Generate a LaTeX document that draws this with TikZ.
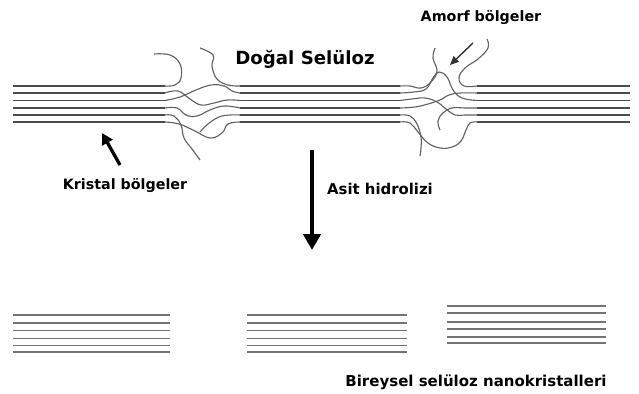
\documentclass[tikz,border=0pt]{standalone}
\usepackage{fontspec}
\setmainfont{DejaVu Sans}
\usetikzlibrary{arrows.meta}

\begin{document}
\begin{tikzpicture}[x=0.3mm, y=-0.3mm,
    fibre/.style={gray!60!black, line width=1.1pt},
    nano/.style={gray!90!black, line width=1.2pt},
    strand/.style={gray!75!black, line width=0.95pt},
    lbl/.style={anchor=base, inner sep=0pt, font=\bfseries\fontsize{12.2}{14}\selectfont}]
    \useasboundingbox (0,0) rectangle (639,394);

    % native cellulose: three crystalline bundles
    \begin{scope}[shift={(13,86)}]
      \draw[fibre] (0,0)  -- (152,0);
      \draw[fibre] (0,7)  -- (152,7);
      \draw[fibre] (0,14.5) -- (152,14.5);
      \draw[fibre] (0,22) -- (152,22);
      \draw[fibre] (0,29) -- (152,29);
      \draw[fibre] (0,36) -- (152,36);
    \end{scope}
    \begin{scope}[shift={(240,86)}]
      \draw[fibre] (0,0)  -- (160,0);
      \draw[fibre] (0,7)  -- (160,7);
      \draw[fibre] (0,14.5) -- (160,14.5);
      \draw[fibre] (0,22) -- (160,22);
      \draw[fibre] (0,29) -- (160,29);
      \draw[fibre] (0,36) -- (160,36);
    \end{scope}
    \begin{scope}[shift={(477,86)}]
      \draw[fibre] (0,0)  -- (153,0);
      \draw[fibre] (0,7)  -- (153,7);
      \draw[fibre] (0,14.5) -- (153,14.5);
      \draw[fibre] (0,22) -- (153,22);
      \draw[fibre] (0,29) -- (153,29);
      \draw[fibre] (0,36) -- (153,36);
    \end{scope}

    % amorphous zone, left
    \draw[strand] plot[smooth, tension=0.7] coordinates {(154,54) (170,55) (180,64) (181,78) (175,85) (165,86)};
    \draw[strand] plot[smooth, tension=0.7] coordinates {(200,48) (213,55) (212,66) (217,79) (228,85) (240,86)};
    \draw[strand] plot[smooth, tension=0.7] coordinates {(165,93) (178,91) (190,99) (201,105) (214,103) (227,100) (240,100.5)};
    \draw[strand] plot[smooth, tension=0.7] coordinates {(165,100.5) (180,97) (196,90) (211,85) (224,86) (232,91) (240,93)};
    \draw[strand] plot[smooth, tension=0.7] coordinates {(165,108) (177,108) (186,115) (197,116) (210,110) (224,106) (240,108)};
    \draw[strand] plot[smooth, tension=0.7] coordinates {(165,115) (174,116) (181,125) (184,138) (192,149) (200,160)};
    \draw[strand] plot[smooth, tension=0.7] coordinates {(165,122) (179,124) (195,131) (210,138) (222,133) (228,124) (240,122)};
    \draw[strand] plot[smooth, tension=0.7] coordinates {(200,132) (208,124) (219,117) (230,115) (240,115)};

    % amorphous zone, right
    \draw[strand] plot[smooth, tension=0.7] coordinates {(487,39) (488,48) (478,59) (465,68) (459,78) (464,86) (477,86)};
    \draw[strand] plot[smooth, tension=0.7] coordinates {(435,48) (433,58) (437,71) (431,82) (421,88) (410,86) (400,86)};
    \draw[strand] plot[smooth, tension=0.7] coordinates {(400,93) (414,92) (426,89) (433,78) (439,72) (447,77) (453,90) (462,98) (477,100.5)};
    \draw[strand] plot[smooth, tension=0.7] coordinates {(400,100.5) (412,99) (425,98) (437,102) (446,109) (455,115) (465,115) (477,115)};
    \draw[strand] plot[smooth, tension=0.7] coordinates {(400,108) (415,107) (428,104) (440,100) (449,95) (460,93) (477,93)};
    \draw[strand] plot[smooth, tension=0.7] coordinates {(400,115) (410,116) (417,124) (421,137) (421,148) (420,156)};
    \draw[strand] plot[smooth, tension=0.7] coordinates {(440,130) (438,121) (443,113) (452,108) (465,108) (477,108)};
    \draw[strand] plot[smooth, tension=0.7] coordinates {(400,122) (410,123) (418,132) (428,143) (440,148) (452,147) (461,141) (466,130) (470,123) (477,122)};

    % after hydrolysis: single nanocrystals
    \begin{scope}[shift={(13,315)}]
      \draw[nano] (0,0)  -- (157,0);
      \draw[nano] (0,8)  -- (157,8);
      \draw[nano] (0,15.5) -- (157,15.5);
      \draw[nano] (0,23.5) -- (157,23.5);
      \draw[nano] (0,30.5) -- (157,30.5);
      \draw[nano] (0,37) -- (157,37);
    \end{scope}
    \begin{scope}[shift={(247,315)}]
      \draw[nano] (0,0)  -- (160,0);
      \draw[nano] (0,8)  -- (160,8);
      \draw[nano] (0,15.5) -- (160,15.5);
      \draw[nano] (0,23.5) -- (160,23.5);
      \draw[nano] (0,30.5) -- (160,30.5);
      \draw[nano] (0,37) -- (160,37);
    \end{scope}
    \begin{scope}[shift={(447,306)}]
      \draw[nano] (0,0)  -- (159,0);
      \draw[nano] (0,7)  -- (159,7);
      \draw[nano] (0,16) -- (159,16);
      \draw[nano] (0,23) -- (159,23);
      \draw[nano] (0,31) -- (159,31);
      \draw[nano] (0,37) -- (159,37);
    \end{scope}

    % labels
    \node[lbl, font=\bfseries\fontsize{15.5}{18}\selectfont] (dogal) at (305,65) {Doğal Selüloz};
    \node[lbl] (amorf)   at (481,22)  {Amorf bölgeler};
    \node[lbl] (kristal) at (125,190) {Kristal bölgeler};
    \node[lbl, font=\bfseries\fontsize{12.7}{15}\selectfont] (asit) at (380,195) {Asit hidrolizi};
    \node[lbl, font=\bfseries\fontsize{12.8}{15}\selectfont] (bireysel) at (476,387) {Bireysel selüloz nanokristalleri};

    % pointers
    \coordinate (kristalTail) at (120,165);
    \coordinate (kristalTip)  at (102,133);
    \coordinate (amorfTail)   at (473,43);
    \coordinate (amorfTip)    at (450,65);
    \coordinate (hydroTop)    at (312,150);
    \coordinate (hydroBot)    at (312,250);
    \draw[line width=2.8pt, -{Triangle[width=10pt, length=9.5pt]}] (kristalTail) -- (kristalTip);
    \draw[gray!40!black, line width=1.2pt, -{Triangle[width=6.5pt, length=7.5pt]}] (amorfTail) -- (amorfTip);
    \draw[line width=3.4pt, -{Triangle[width=14.5pt, length=13.5pt]}] (hydroTop) -- (hydroBot);
\end{tikzpicture}
\end{document}
